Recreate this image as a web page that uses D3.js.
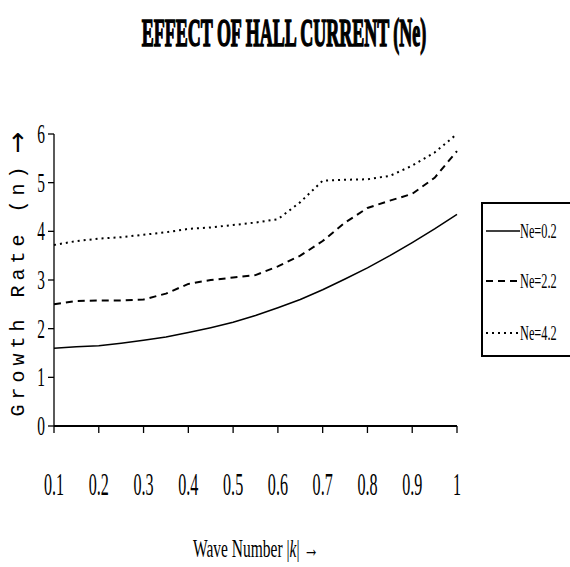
<!DOCTYPE html>
<html>
<head>
<meta charset="utf-8">
<script src="https://cdn.jsdelivr.net/npm/d3@7"></script>
<style>
  body { margin: 0; background: #fff; }
  svg { display: block; }
</style>
</head>
<body>
<svg id="chart" width="570" height="567"></svg>
<script>
"use strict";

// wave number k
const waveNumber = [0.1, 0.15, 0.2, 0.25, 0.3, 0.35, 0.4, 0.45, 0.5, 0.55, 0.6, 0.65, 0.7, 0.75, 0.8, 0.85, 0.9, 0.95, 1.0];

// growth rate for each Hall current parameter
const ne02 = [1.6, 1.63, 1.65, 1.7, 1.76, 1.83, 1.92, 2.02, 2.13, 2.27, 2.43, 2.6, 2.8, 3.02, 3.25, 3.5, 3.77, 4.05, 4.35];
const ne22 = [2.5, 2.57, 2.58, 2.58, 2.6, 2.72, 2.92, 3.0, 3.05, 3.1, 3.28, 3.5, 3.8, 4.18, 4.48, 4.63, 4.77, 5.1, 5.65];
const ne42 = [3.72, 3.8, 3.85, 3.88, 3.93, 3.98, 4.05, 4.08, 4.13, 4.18, 4.25, 4.6, 5.04, 5.06, 5.07, 5.14, 5.35, 5.62, 6.0];

const seriesNames = ["Ne=0.2", "Ne=2.2", "Ne=4.2"];
const xTicks = [0.1, 0.2, 0.3, 0.4, 0.5, 0.6, 0.7, 0.8, 0.9, 1];
const yTicks = [0, 1, 2, 3, 4, 5, 6];

const dashes = [null, "7,5", "2,4"];

const svg = d3.select("#chart");

const xScale = d3.scaleLinear().domain([0.1, 1]).range([54, 457]);
const yScale = d3.scaleLinear().domain([0, 6]).range([426, 134]);

// narrow text helper (the original uses a tall condensed font)
function squeezed(g, x, y, str, size, sx, anchor, family, weight) {
  return g.append("text")
    .attr("transform", `translate(${x},${y}) scale(${sx},1)`)
    .attr("text-anchor", anchor)
    .style("font-family", family || "'Liberation Serif', serif")
    .style("font-size", size + "px")
    .style("font-weight", weight || "normal")
    .text(str);
}

// title
squeezed(svg, 284, 46, "EFFECT OF HALL CURRENT (Ne)", 40, 0.45, "middle", "'Liberation Serif', serif", "bold")
  .attr("stroke", "#000").attr("stroke-width", 1.6);

// axes
svg.append("line")
  .attr("x1", xScale(0.1)).attr("x2", xScale(1))
  .attr("y1", yScale(0)).attr("y2", yScale(0))
  .attr("stroke", "#000").attr("stroke-width", 2);
svg.append("line")
  .attr("x1", xScale(0.1)).attr("x2", xScale(0.1))
  .attr("y1", yScale(0)).attr("y2", yScale(6))
  .attr("stroke", "#000").attr("stroke-width", 1.3);

svg.selectAll(".xtick").data(xTicks).enter().append("line")
  .attr("x1", d => xScale(d)).attr("x2", d => xScale(d))
  .attr("y1", yScale(0)).attr("y2", yScale(0) + 7)
  .attr("stroke", "#000").attr("stroke-width", 1.3);

svg.selectAll(".ytick").data(yTicks).enter().append("line")
  .attr("x1", xScale(0.1) - 6).attr("x2", xScale(0.1))
  .attr("y1", d => yScale(d)).attr("y2", d => yScale(d))
  .attr("stroke", "#000").attr("stroke-width", 1.3);

xTicks.forEach(t => {
  squeezed(svg, xScale(t), 495, String(t), 31, 0.52, "middle");
});
yTicks.forEach(t => {
  squeezed(svg, 45, yScale(t) + 9, String(t), 28, 0.55, "end");
});

// axis titles
const xl = squeezed(svg, 256, 557, "", 25, 0.62, "middle");
xl.append("tspan").text("Wave Number |");
xl.append("tspan").style("font-style", "italic").text("k");
xl.append("tspan").text("| \u2192");

const yl = svg.append("text")
  .attr("transform", "translate(24,274) rotate(-90)")
  .attr("text-anchor", "middle")
  .style("font-family", "'Liberation Mono', monospace")
  .style("font-size", "20px")
  .attr("letter-spacing", 5);
yl.append("tspan").text("Growth Rate (n)");
yl.append("tspan")
  .style("font-family", "'DejaVu Sans', sans-serif")
  .style("font-size", "26px")
  .attr("dy", 2)
  .attr("letter-spacing", 0)
  .text(" \u2192");

// lines
const line = d3.line()
  .x((d, i) => xScale(waveNumber[i]))
  .y(d => yScale(d));

[ne02, ne22, ne42].forEach((s, i) => {
  svg.append("path")
    .datum(s)
    .attr("d", line)
    .attr("fill", "none")
    .attr("stroke", "#000")
    .attr("stroke-width", i === 0 ? 1.5 : 2)
    .attr("stroke-dasharray", dashes[i]);
});

// legend
const legend = svg.append("g");
legend.append("rect")
  .attr("x", 482).attr("y", 203)
  .attr("width", 120).attr("height", 153)
  .attr("fill", "none").attr("stroke", "#000").attr("stroke-width", 2);

const legendY = [231, 281, 333];
seriesNames.forEach((name, i) => {
  legend.append("line")
    .attr("x1", 486).attr("x2", 520)
    .attr("y1", legendY[i]).attr("y2", legendY[i])
    .attr("stroke", "#000")
    .attr("stroke-width", i === 0 ? 1.5 : 2)
    .attr("stroke-dasharray", dashes[i]);
  squeezed(legend, 520, legendY[i] + 7, name, 22, 0.56, "start");
});
</script>
</body>
</html>
